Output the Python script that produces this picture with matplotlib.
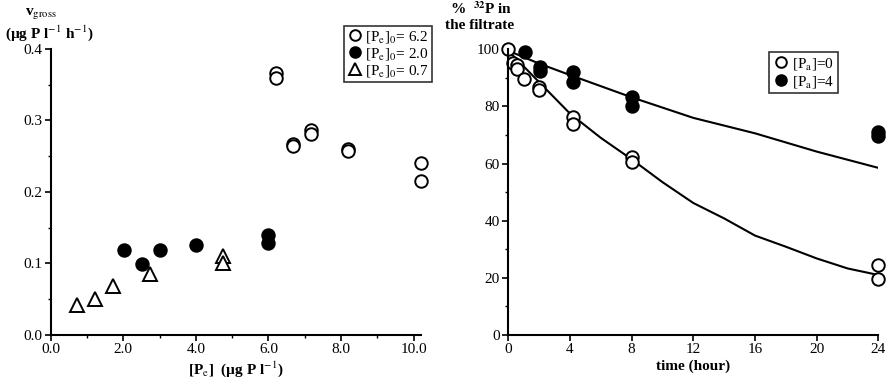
import numpy as np
import matplotlib
matplotlib.use("Agg")
import matplotlib.pyplot as plt
from matplotlib.ticker import MultipleLocator, FormatStrFormatter

plt.rcParams['font.family'] = ['Liberation Serif', 'DejaVu Serif']
plt.rcParams['mathtext.fontset'] = 'stix'

# ---- left panel data: v_gross vs [Pe]
pe62_x = [6.2, 6.2, 6.68, 6.68, 7.17, 7.17, 8.18, 8.18, 10.2, 10.2]
pe62_y = [0.367, 0.360, 0.267, 0.264, 0.287, 0.281, 0.260, 0.257, 0.240, 0.216]
pe20_x = [2.03, 2.53, 3.02, 4.01, 6.0, 6.0]
pe20_y = [0.119, 0.099, 0.119, 0.126, 0.140, 0.128]
pe07_x = [0.73, 1.22, 1.72, 2.74, 4.74, 4.74]
pe07_y = [0.042, 0.050, 0.068, 0.085, 0.110, 0.100]

# ---- right panel data: % 32P in filtrate vs time
pa0_t = [0, 0.28, 0.58, 0.58, 1.04, 2.0, 2.0, 4.18, 4.18, 8.03, 8.03, 24, 24]
pa0_y = [100, 95.1, 94.5, 93.0, 89.5, 86.7, 85.8, 76.3, 74.0, 62.4, 60.7, 24.5, 19.5]
pa4_t = [1.08, 2.03, 2.03, 4.18, 4.18, 8.03, 8.03, 24, 24]
pa4_y = [99.2, 93.9, 92.5, 92.2, 88.7, 83.2, 80.2, 70.9, 69.6]

fit0_t = [0, 1, 2, 4, 6, 8, 10, 12, 14, 16, 18, 20, 22, 24]
fit0_y = [99.5, 94, 88.5, 77.5, 69, 61.5, 53.5, 46.2, 40.8, 34.8, 30.9, 26.8, 23.3, 21]
fit4_t = [0, 2, 4, 8, 12, 16, 20, 24]
fit4_y = [99.5, 95, 91, 83.2, 76, 70.6, 64.2, 58.5]

fig = plt.figure(figsize=(8.94, 3.85), dpi=100)
ax1 = fig.add_axes([0.0567, 0.1299, 0.414, 0.743])
ax2 = fig.add_axes([0.5686, 0.1299, 0.4139, 0.742])

ms = 9
mew = 1.4
ax1.plot(pe62_x, pe62_y, 'o', ms=ms, mfc='white', mec='black', mew=mew, clip_on=False,
         label=r'[P$_{\rm e}$]$_{0}$= 6.2')
ax1.plot(pe20_x, pe20_y, 'o', ms=ms, mfc='black', mec='black', mew=mew, clip_on=False,
         label=r'[P$_{\rm e}$]$_{0}$= 2.0')
ax1.plot(pe07_x, pe07_y, '^', ms=ms + 1, mfc='white', mec='black', mew=mew, clip_on=False,
         label=r'[P$_{\rm e}$]$_{0}$= 0.7')

ax1.set_xlim(0, 10.2)
ax1.set_ylim(0, 0.4)
ax1.xaxis.set_major_locator(MultipleLocator(2))
ax1.xaxis.set_minor_locator(MultipleLocator(1))
ax1.yaxis.set_major_locator(MultipleLocator(0.1))
ax1.yaxis.set_minor_locator(MultipleLocator(0.05))
ax1.xaxis.set_major_formatter(FormatStrFormatter('%.1f'))
ax1.yaxis.set_major_formatter(FormatStrFormatter('%.1f'))
ax1.set_xlabel('[P$_{\\rm e}$]  (µg P l$^{-1}$)', fontsize=11, fontweight='bold', labelpad=2)
leg1 = ax1.legend(loc='upper right', bbox_to_anchor=(1.03, 1.08), fontsize=11, frameon=True,
                  fancybox=False, edgecolor='black', handletextpad=0.2, borderpad=0.2,
                  labelspacing=0.05, handlelength=1.0, borderaxespad=0, markerscale=0.85)
leg1.get_frame().set_linewidth(1.2)
fig.text(0.028, 0.965, r'v$_{\rm gross}$', fontsize=11, fontweight='bold', ha='left', va='center')
fig.text(0.006, 0.915, '(µg P l$^{-1}$ h$^{-1}$)', fontsize=11, fontweight='bold',
         ha='left', va='center')

ax2.plot(fit0_t, fit0_y, '-', color='black', lw=1.5)
ax2.plot(fit4_t, fit4_y, '-', color='black', lw=1.5)
ax2.plot(pa0_t, pa0_y, 'o', ms=ms, mfc='white', mec='black', mew=mew, clip_on=False,
         label=r'[P$_{\rm a}$]=0')
ax2.plot(pa4_t, pa4_y, 'o', ms=ms, mfc='black', mec='black', mew=mew, clip_on=False,
         label=r'[P$_{\rm a}$]=4')
ax2.set_xlim(0, 24)
ax2.set_ylim(0, 100)
ax2.xaxis.set_major_locator(MultipleLocator(4))
ax2.yaxis.set_major_locator(MultipleLocator(20))
ax2.yaxis.set_minor_locator(MultipleLocator(10))
ax2.set_xlabel('time (hour)', fontsize=11, fontweight='bold', labelpad=2)
handles, labels = ax2.get_legend_handles_labels()
leg2 = ax2.legend(handles, labels, loc='upper right', bbox_to_anchor=(0.89, 0.99), fontsize=11,
                  frameon=True, fancybox=False, edgecolor='black', handletextpad=0.2,
                  borderpad=0.25, labelspacing=0.1, handlelength=1.0, borderaxespad=0,
                  markerscale=0.85)
leg2.get_frame().set_linewidth(1.2)
fig.text(0.503, 0.978, r'%  $^{\mathbf{32}}$P in', fontsize=11, fontweight='bold', ha='left',
         va='center')
fig.text(0.498, 0.935, 'the filtrate', fontsize=11, fontweight='bold', ha='left', va='center')

for ax in (ax1, ax2):
    ax.spines['top'].set_visible(False)
    ax.spines['right'].set_visible(False)
    ax.spines['left'].set_linewidth(1.5)
    ax.spines['bottom'].set_linewidth(1.5)
    ax.tick_params(which='major', length=4, width=1.2, labelsize=11, pad=2)
    ax.tick_params(which='minor', length=2.5, width=1.0)

fig.savefig('out.png', dpi=100)
